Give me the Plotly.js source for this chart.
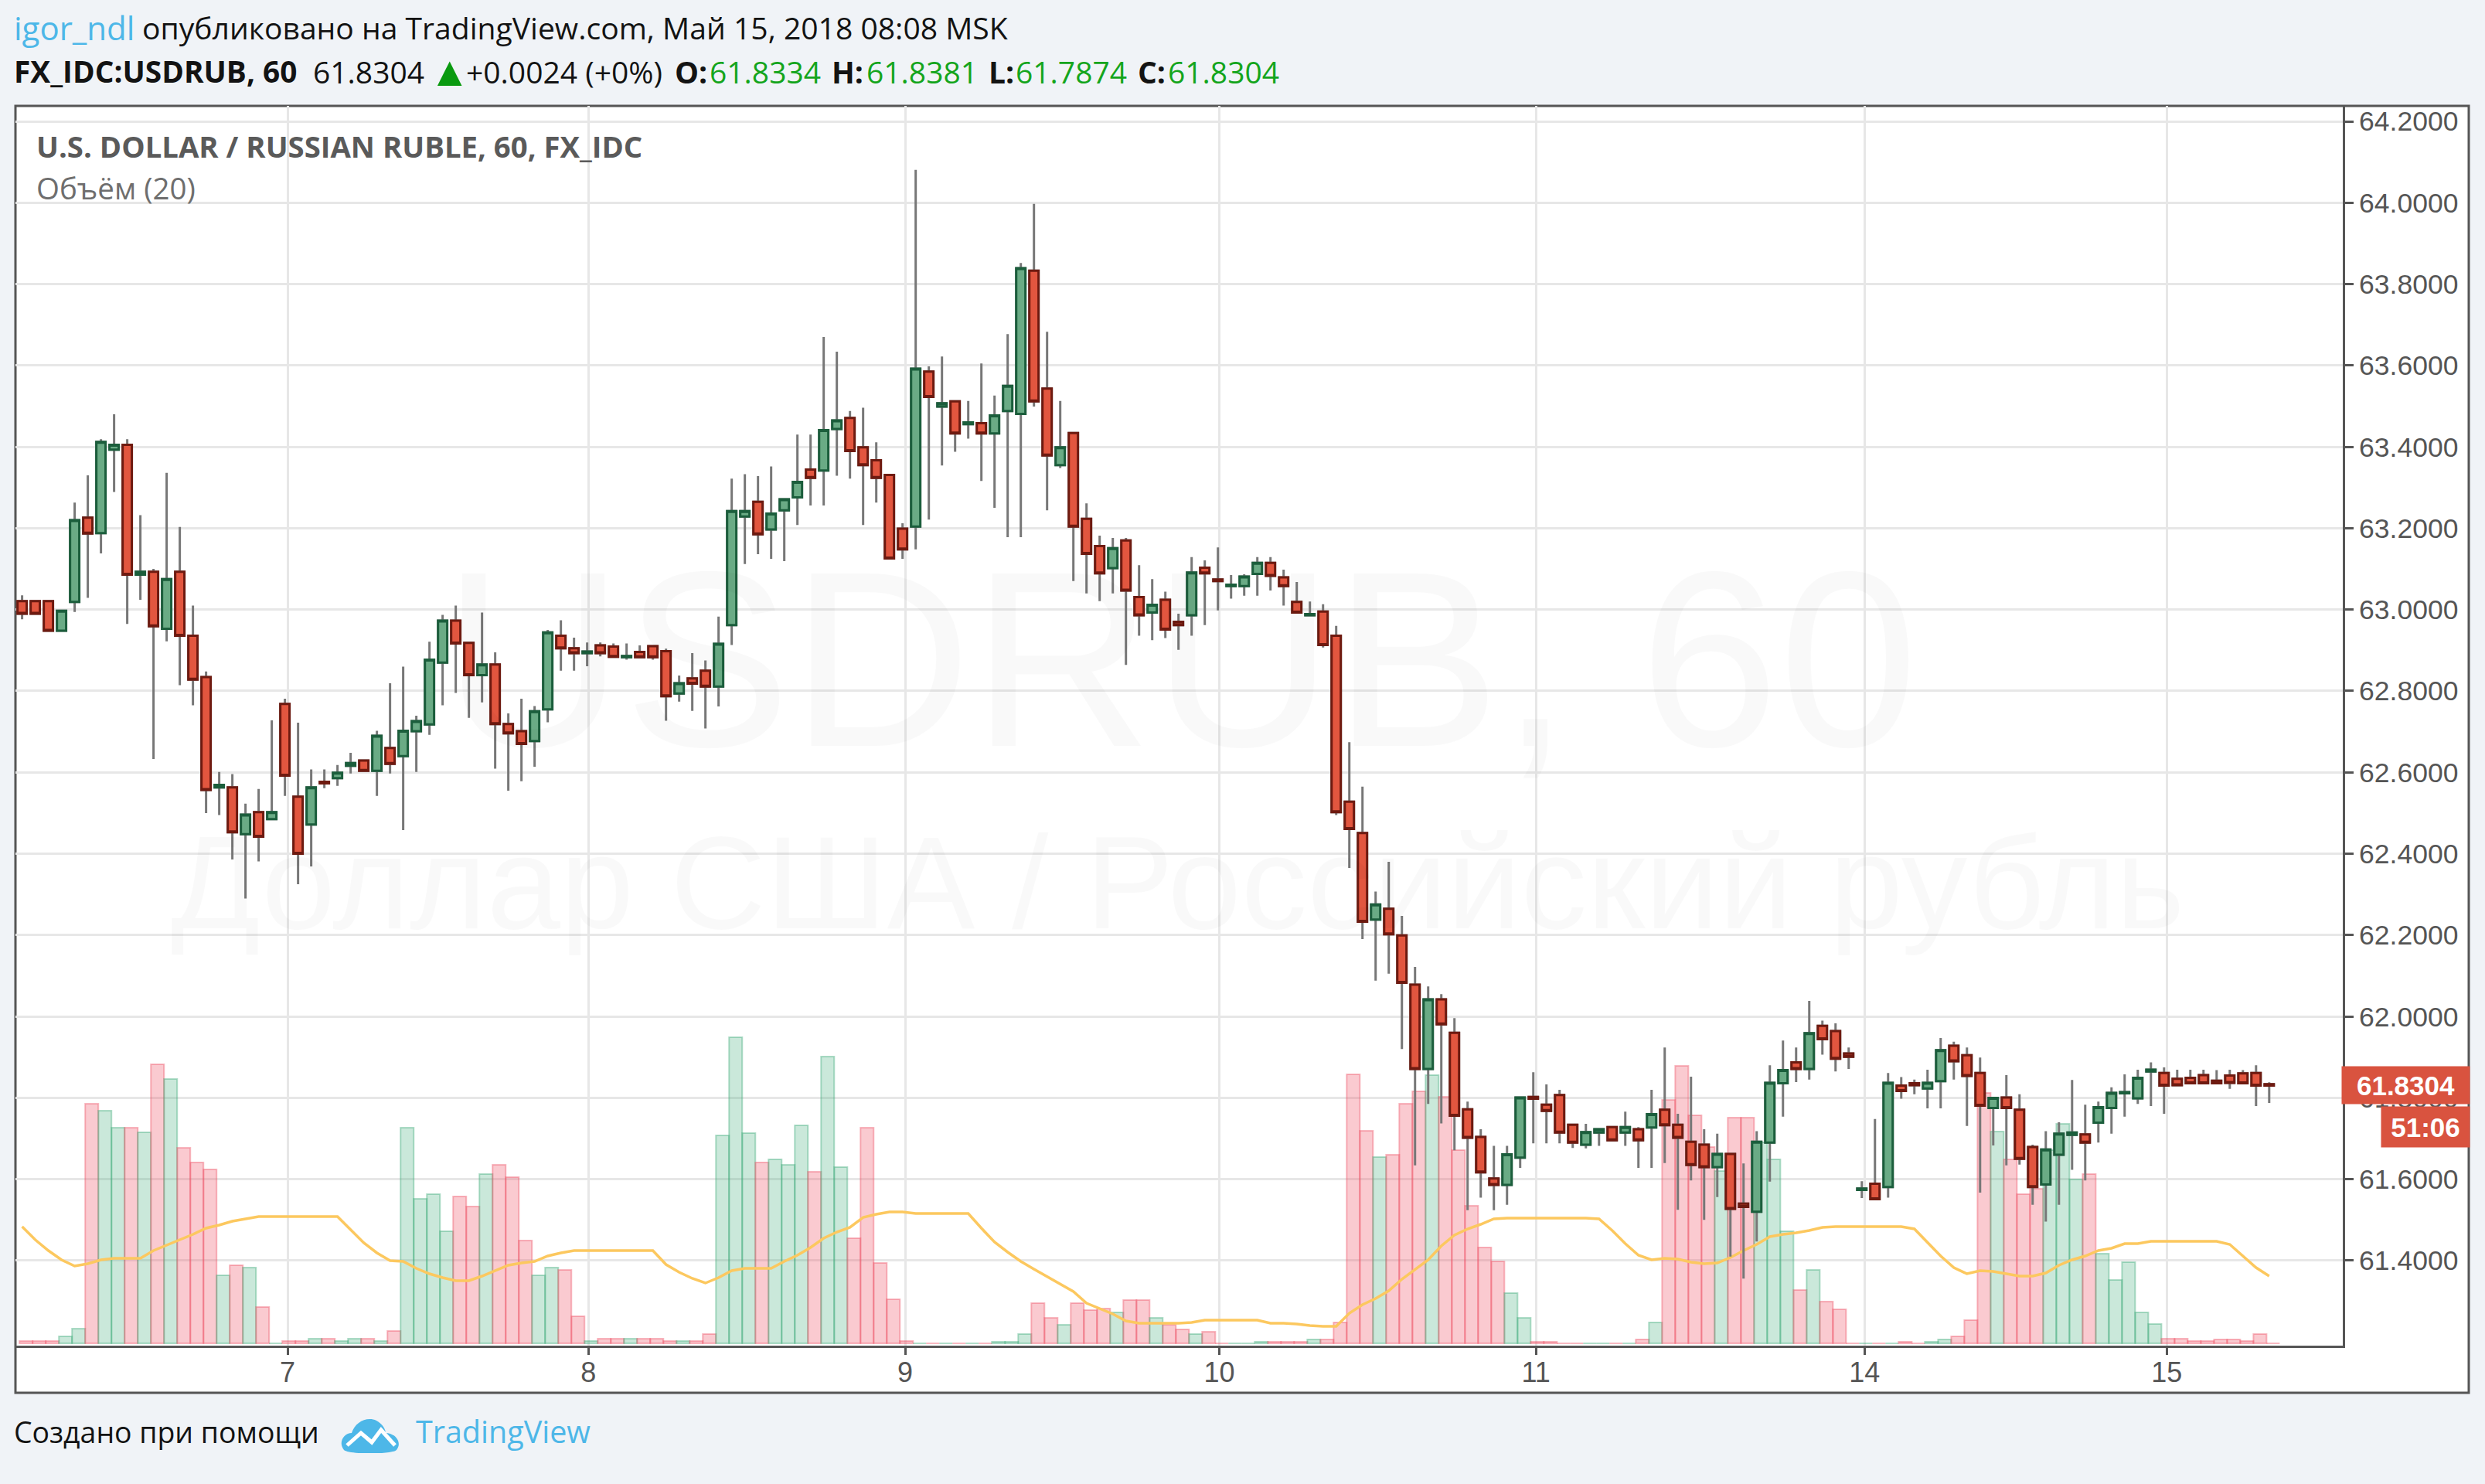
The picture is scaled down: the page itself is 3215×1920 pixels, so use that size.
<!DOCTYPE html>
<html>
<head>
<meta charset="utf-8">
<script src="https://cdn.plot.ly/plotly-3.0.1.min.js"></script>
<style>body{margin:0;background:#f0f3f7}</style>
</head>
<body>
<div id="chart"></div>
<script>
"use strict"

// hourly bars
const opens = [63.021,63.021,63.021,62.948,63.019,63.226,63.188,63.393,63.405,63.086,63.093,62.953,63.093,62.936,62.834,62.563,62.563,62.448,62.502,62.485,
  62.768,62.540,62.472,62.577,62.586,62.616,62.629,62.604,62.660,62.640,62.701,62.718,62.870,62.973,62.918,62.839,62.865,62.719,62.701,62.677,
  62.755,62.936,62.905,62.893,62.912,62.909,62.883,62.896,62.910,62.898,62.794,62.831,62.850,62.811,62.962,63.229,63.265,63.197,63.244,63.276,
  63.344,63.342,63.444,63.471,63.399,63.367,63.331,63.199,63.204,63.585,63.499,63.512,63.456,63.458,63.433,63.488,63.481,63.833,63.543,63.355,
  63.434,63.223,63.156,63.102,63.170,63.031,62.993,63.024,62.970,62.986,63.103,63.074,63.058,63.058,63.088,63.115,63.079,63.019,62.986,62.995,
  62.936,62.528,62.451,62.238,62.265,62.199,62.078,61.871,62.042,61.960,61.772,61.704,61.602,61.586,61.653,61.802,61.783,61.807,61.734,61.685,
  61.715,61.728,61.715,61.723,61.727,61.771,61.734,61.692,61.685,61.630,61.662,61.540,61.520,61.690,61.836,61.887,61.871,61.977,61.964,61.909,
  61.574,61.589,61.581,61.830,61.836,61.823,61.841,61.928,61.905,61.861,61.775,61.801,61.771,61.679,61.587,61.660,61.709,61.710,61.739,61.775,
  61.811,61.799,61.865,61.861,61.847,61.849,61.856,61.842,61.855,61.860,61.861,61.8334]
const highs = [63.035,63.021,63.021,62.997,63.263,63.330,63.419,63.480,63.419,63.232,63.100,63.336,63.203,63.010,62.848,62.601,62.596,62.523,62.559,62.728,
  62.781,62.722,62.607,62.607,62.618,62.648,62.629,62.702,62.819,62.860,62.739,62.921,62.987,63.010,62.918,62.993,62.895,62.745,62.781,62.763,
  62.950,62.974,62.931,62.919,62.919,62.917,62.917,62.912,62.910,62.904,62.838,62.893,62.875,62.983,63.322,63.333,63.328,63.352,63.271,63.430,
  63.430,63.670,63.634,63.488,63.496,63.411,63.331,63.212,64.081,63.598,63.622,63.512,63.513,63.605,63.526,63.677,63.852,63.997,63.683,63.513,
  63.434,63.261,63.182,63.176,63.176,63.109,63.075,63.044,62.990,63.129,63.121,63.153,63.085,63.087,63.129,63.129,63.098,63.068,63.020,63.013,
  62.960,62.674,62.565,62.307,62.380,62.247,62.122,62.074,62.055,61.996,61.791,61.723,61.682,61.682,61.801,61.863,61.833,61.820,61.734,61.736,
  61.723,61.728,61.766,61.728,61.820,61.924,61.761,61.852,61.723,61.712,61.662,61.639,61.718,61.880,61.941,61.924,62.038,61.990,61.983,61.924,
  61.595,61.748,61.861,61.851,61.845,61.869,61.947,61.938,61.924,61.899,61.800,61.856,61.809,61.685,61.718,61.740,61.844,61.783,61.791,61.826,
  61.858,61.869,61.887,61.875,61.869,61.869,61.869,61.868,61.869,61.868,61.880,61.8381]
const lows = [62.976,62.990,62.948,62.948,62.994,63.029,63.138,63.289,62.965,63.024,62.633,62.922,62.814,62.765,62.500,62.495,62.386,62.290,62.381,62.485,
  62.542,62.325,62.369,62.561,62.567,62.597,62.604,62.542,62.597,62.458,62.601,62.692,62.765,62.795,62.734,62.772,62.609,62.555,62.578,62.614,
  62.723,62.850,62.850,62.861,62.885,62.883,62.877,62.883,62.877,62.727,62.774,62.751,62.708,62.762,62.913,63.112,63.136,63.125,63.119,63.208,
  63.256,63.256,63.329,63.322,63.208,63.263,63.126,63.125,63.148,63.221,63.354,63.388,63.420,63.316,63.250,63.178,63.178,63.499,63.244,63.348,
  63.070,63.040,63.021,63.040,62.864,62.936,62.925,62.930,62.901,62.936,62.962,62.998,63.027,63.034,63.034,63.047,63.010,62.993,62.986,62.907,
  62.495,62.365,62.190,62.088,62.105,61.920,61.634,61.785,61.737,61.671,61.524,61.555,61.524,61.537,61.628,61.688,61.688,61.688,61.677,61.676,
  61.682,61.696,61.682,61.628,61.628,61.640,61.525,61.597,61.500,61.556,61.410,61.356,61.447,61.594,61.754,61.839,61.845,61.906,61.865,61.871,
  61.554,61.550,61.555,61.798,61.809,61.774,61.774,61.845,61.731,61.567,61.683,61.634,61.636,61.537,61.496,61.537,61.623,61.597,61.690,61.712,
  61.754,61.785,61.780,61.761,61.831,61.836,61.836,61.836,61.822,61.836,61.780,61.7874]
const closes = [62.990,62.990,62.948,62.997,63.220,63.187,63.412,63.405,63.086,63.093,62.959,63.075,62.936,62.828,62.557,62.569,62.453,62.496,62.442,62.502,
  62.592,62.400,62.563,62.573,62.599,62.623,62.604,62.690,62.621,62.702,62.726,62.877,62.973,62.917,62.839,62.865,62.719,62.696,62.670,62.750,
  62.944,62.905,62.893,62.897,62.893,62.884,62.886,62.883,62.883,62.787,62.819,62.818,62.811,62.916,63.242,63.242,63.185,63.236,63.271,63.314,
  63.324,63.441,63.465,63.390,63.355,63.324,63.126,63.148,63.592,63.523,63.507,63.433,63.460,63.433,63.477,63.550,63.839,63.512,63.379,63.399,
  63.204,63.137,63.089,63.151,63.047,62.986,63.012,62.951,62.962,63.091,63.089,63.070,63.061,63.081,63.115,63.083,63.058,62.993,62.989,62.913,
  62.502,62.461,62.233,62.275,62.202,62.083,61.871,62.042,61.981,61.756,61.702,61.617,61.586,61.661,61.801,61.798,61.768,61.715,61.690,61.716,
  61.723,61.696,61.728,61.696,61.760,61.733,61.702,61.635,61.630,61.662,61.527,61.532,61.692,61.837,61.868,61.871,61.959,61.944,61.896,61.901,
  61.577,61.551,61.837,61.817,61.831,61.837,61.917,61.890,61.854,61.781,61.800,61.775,61.650,61.581,61.673,61.712,61.715,61.690,61.777,61.812,
  61.814,61.849,61.869,61.830,61.831,61.836,61.836,61.836,61.837,61.836,61.830,61.8304]
const volumes = [3,3,3,9,19,310,301,279,279,273,361,342,253,234,225,88,101,98,47,0,
  3,3,6,6,3,6,6,3,16,279,187,193,145,190,177,219,231,215,133,88,
  98,95,35,3,6,6,6,6,6,3,3,3,12,269,396,272,234,238,231,282,
  222,371,228,136,279,104,57,3,0,0,0,0,0,0,2,2,12,52,33,24,
  52,43,45,40,56,56,33,24,18,12,15,0,0,0,2,2,2,2,5,5,
  27,348,275,241,244,310,326,347,319,250,178,124,106,65,33,2,2,0,0,0,
  0,0,0,5,27,315,359,295,254,223,292,292,260,238,145,69,95,54,44,0,
  0,0,0,2,0,2,5,9,30,324,274,238,193,200,250,284,212,219,116,82,
  105,40,25,6,6,3,3,5,5,3,12,0]
const volumeAvg = [151,134,120,108,100,103,108,110,110,110,120,127,134,141,149,153,158,161,164,164,
  164,164,164,164,164,147,130,117,107,106,97,90,85,81,81,87,94,101,104,106,
  113,117,120,120,120,120,120,120,120,102,92,84,78,85,94,97,97,97,106,114,
  124,136,144,150,163,167,170,170,168,168,168,168,168,149,131,118,106,96,86,76,
  67,52,45,38,29,26,26,26,26,27,30,30,30,30,30,26,26,25,23,22,
  22,39,50,58,68,83,96,108,126,140,148,154,161,162,162,162,162,162,162,162,
  161,146,129,114,108,110,109,105,103,104,111,120,128,138,141,143,146,150,151,151,
  151,151,151,151,148,130,113,98,90,94,93,90,87,87,91,101,108,113,120,123,
  129,129,132,132,132,132,132,132,128,113,98,87]
const barIndex = opens.map((v,i)=>i)

const dayTicks = [20.2,43.1,67.2,91.1,115.2,140.2,163.2]
const dayLabels = ["7","8","9","10","11","14","15"]
const priceTicks = [61.4,61.6,61.8,62.0,62.2,62.4,62.6,62.8,63.0,63.2,63.4,63.6,63.8,64.0,64.2]

const lastOpen = "61.8334"
const lastHigh = "61.8381"
const lastLow = "61.7874"
const lastClose = "61.8304"

const W = 3215
const H = 1920
const plotL = 20
const plotR = 3031
const plotT = 137
const plotB = 1741
const px = x=>(x-plotL)/(plotR-plotL)
const py = y=>(plotB-y)/(plotB-plotT)

const uiFont = "Open Sans, Noto Sans, sans-serif"
const axisFont = "Liberation Sans, Arial, sans-serif"
const green = "#14a51c"
const black = "#131313"

const text = (x,y,t,size,color,extra)=>Object.assign({
  xref:"paper", yref:"paper", x:px(x), y:py(y), text:t, showarrow:false,
  xanchor:"left", yanchor:"middle", font:{family:uiFont, size:size, color:color},
},extra||{})

const isUp = barIndex.map(i=>closes[i]>=opens[i])

const volumeTrace = {
  type:"bar", x:barIndex, y:volumes, yaxis:"y", width:1, offset:-0.2, hoverinfo:"skip",
  marker:{
    color:isUp.map(v=>v?"rgba(60,170,120,0.27)":"rgba(238,80,100,0.3)"),
    line:{color:isUp.map(v=>v?"rgba(60,170,120,0.4)":"rgba(238,80,100,0.4)"), width:2},
  },
}
const avgTrace = {
  type:"scatter", mode:"lines", x:barIndex, y:volumeAvg, yaxis:"y", hoverinfo:"skip",
  line:{color:"#fcc85f", width:3.5},
}
// gray wicks underneath, bodies with their own dark border on top
const wickTrace = {
  type:"candlestick", x:barIndex, open:opens, high:highs, low:lows, close:closes, yaxis:"y2",
  whiskerwidth:0, hoverinfo:"skip",
  increasing:{line:{color:"#777777", width:3}, fillcolor:"rgba(0,0,0,0)"},
  decreasing:{line:{color:"#777777", width:3}, fillcolor:"rgba(0,0,0,0)"},
}
const bodyTrace = {
  type:"candlestick", x:barIndex, open:opens, close:closes, yaxis:"y2",
  high:barIndex.map(i=>Math.max(opens[i],closes[i])),
  low:barIndex.map(i=>Math.min(opens[i],closes[i])),
  whiskerwidth:0, hoverinfo:"skip",
  increasing:{line:{color:"#1b5e3c", width:3}, fillcolor:"#6aab85"},
  decreasing:{line:{color:"#6e1a10", width:3}, fillcolor:"#e2563f"},
}

const logo = "data:image/svg+xml;utf8,"+encodeURIComponent(
  '<svg xmlns="http://www.w3.org/2000/svg" viewBox="0 0 76 48">'+
  '<path d="M4 44C-4 34 4 22 14 22C18 8 34 0 46 6C54 10 58 18 58 22C70 22 80 34 72 44C66 50 10 50 4 44Z" fill="#4db7e8"/>'+
  '<path d="M8 38L26 22L40 34L52 18L70 38" fill="none" stroke="#fff" stroke-width="5"/></svg>')

const annotations = [
  text(16,35,"igor_ndl",42,"#4db7e8"),
  text(182,35,"опубликовано на TradingView.com, Май 15, 2018 08:08 MSK",39.1,black),
  text(16,92,"<b>FX_IDC:USDRUB, 60</b>",38.8,black),
  text(403,92,lastClose,39,black),
  text(553,90,"▲",54,"#0a9a10"),
  text(601,92,"+0.0024 (+0%)",39,black),
  text(871,92,"<b>O:</b>",39,black),
  text(916,92,lastOpen,39,green),
  text(1074,92,"<b>H:</b>",39,black),
  text(1119,92,lastHigh,39,green),
  text(1277,92,"<b>L:</b>",39,black),
  text(1312,92,lastLow,39,green),
  text(1470,92,"<b>C:</b>",39,black),
  text(1509,92,lastClose,39,green),
  text(45,189,"<b>U.S. DOLLAR / RUSSIAN RUBLE, 60, FX_IDC</b>",38.3,"#5a5a5a"),
  text(45,243,"Объём (20)",38.5,"#6e6e6e"),
  text(16,1852,"Создано при помощи",37.4,black),
  text(536,1852,"TradingView",39.5,"#4db7e8"),
  text(1527,853,"USDRUB, 60",324,"rgba(0,0,0,0.025)",{xanchor:"center",font:{family:axisFont,size:324,color:"rgba(0,0,0,0.025)"}}),
  text(1523,1141,"Доллар США / Российский рубль",171,"rgba(0,0,0,0.025)",{xanchor:"center",font:{family:axisFont,size:171,color:"rgba(0,0,0,0.025)"}}),
  // last price and countdown flags on the price scale
  {xref:"paper", yref:"y2", x:px(3112), y:Number(lastClose), xanchor:"center", yanchor:"middle",
   text:"<b>"+lastClose+"</b>", showarrow:false,
   width:163, height:46, bgcolor:"#d9533f", font:{family:axisFont,size:35,color:"#ffffff"}},
  text(3138,1458,"<b>51:06</b>",35,"#fff",{xanchor:"center", width:112, height:50, bgcolor:"#d9533f",
    font:{family:axisFont,size:35,color:"#ffffff"}}),
]

const layout = {
  width:W, height:H, autosize:false,
  paper_bgcolor:"#f0f3f7", plot_bgcolor:"rgba(0,0,0,0)",
  margin:{l:plotL, r:W-plotR, t:plotT, b:H-plotB, pad:0},
  showlegend:false, boxmode:"overlay", boxgap:0, hovermode:false,
  xaxis:{
    type:"linear", range:[-0.506,176.6], rangeslider:{visible:false},
    tickmode:"array", tickvals:dayTicks, ticktext:dayLabels,
    showgrid:true, gridcolor:"#e7e7e7", gridwidth:3, zeroline:false,
    showline:true, linecolor:"#555555", linewidth:3,
    ticks:"outside", ticklen:9, tickwidth:3, tickcolor:"#555555", ticklabelstandoff:-8,
    tickfont:{family:axisFont, size:36, color:"#555555"},
  },
  yaxis:{
    range:[-3,1601], visible:false, showgrid:false, zeroline:false,
  },
  yaxis2:{
    overlaying:"y", side:"right", anchor:"x", range:[61.191,64.238],
    tickmode:"array", tickvals:priceTicks, ticktext:priceTicks.map(v=>v.toFixed(4)),
    showgrid:true, gridcolor:"#e7e7e7", gridwidth:3, zeroline:false,
    showline:true, linecolor:"#555555", linewidth:3,
    ticks:"outside", ticklen:11, tickwidth:3, tickcolor:"#555555",
    tickfont:{family:axisFont, size:35.5, color:"#555555"},
  },
  shapes:[
    {type:"rect", xref:"paper", yref:"paper", x0:px(20), x1:px(3194), y0:py(1802), y1:py(137),
     fillcolor:"#ffffff", line:{color:"#555555", width:3}, layer:"below"},
    {type:"line", xref:"paper", yref:"y2", x0:px(3034), x1:px(3045), y0:Number(lastClose), y1:Number(lastClose),
     line:{color:"#ffffff", width:3}, layer:"above"},
  ],
  images:[
    {source:logo, xref:"paper", yref:"paper", x:px(441), y:py(1832), sizex:76/(plotR-plotL), sizey:48/(plotB-plotT),
     sizing:"stretch", xanchor:"left", yanchor:"top", layer:"above"},
  ],
  annotations:annotations,
}

Plotly.newPlot("chart",[volumeTrace,avgTrace,wickTrace,bodyTrace],layout,{displayModeBar:false, staticPlot:true})
</script>
</body>
</html>
